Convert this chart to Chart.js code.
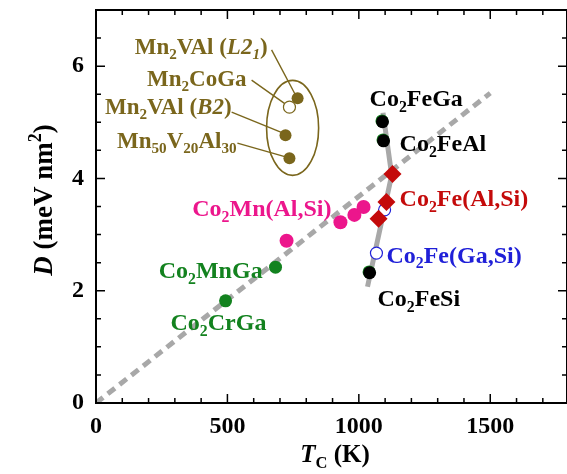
<!DOCTYPE html>
<html><head><meta charset="utf-8">
<script src="https://cdn.jsdelivr.net/npm/chart.js@4"></script>
<style>html,body{margin:0;padding:0;background:#fff;overflow:hidden}canvas{display:block}</style>
</head><body><canvas id="c" width="567" height="474" style="width:567px;height:474px"></canvas>
<script>
// ---------- data (T_C in K, D in meV nm^2) ----------
const mnVAlFilled   = [[767,5.43],[721,4.77],[736,4.36]];   // Mn2VAl(L21), Mn2VAl(B2), Mn50V20Al30
const mn2CoGaOpen   = [[736,5.27]];
const co2FeBlack    = [[1090,5.01],[1094,4.67],[1041,2.32]]; // Co2FeGa, Co2FeAl, Co2FeSi
const co2FeGreen    = [[1088,5.025],[1092,4.685],[1039,2.335]];
const co2FeGaSi     = [[1067,2.67],[1098,3.44]];
const co2FeAlSi     = [[1128,4.08],[1105,3.58],[1075,3.28]];
const co2MnAlSi     = [[725,2.89],[930,3.22],[983,3.35],[1018,3.49]];
const co2MnGa       = [[683,2.42]];
const co2CrGa       = [[493,1.82]];
const fitLine       = [[0,0],[1500,5.52]];
const co2FeGuide    = [[1092,5.17],[1125,4.06],[1033,2.07]];
const xTickLabels   = [0,500,1000,1500];
const xMinorTicks   = [100,200,300,400,600,700,800,900,1100,1200,1300,1400,1600,1700];
const yTickLabels   = [0,2,4,6];
const yMinorTicks   = [0.5,1,1.5,2.5,3,3.5,4.5,5,5.5,6.5];
const labelTexts    = ['Mn_2VAl (*L2_1*)','Mn_2CoGa','Mn_2VAl (*B2*)','Mn_{50}V_{20}Al_{30}',
                       'Co_2FeGa','Co_2FeAl','Co_2Fe(Al,Si)','Co_2Fe(Ga,Si)','Co_2FeSi',
                       'Co_2Mn(Al,Si)','Co_2MnGa','Co_2CrGa'];

// ---------- styles / annotation placement ----------
const FAM = '"Liberation Serif","Times New Roman",serif';
const OLIVE='#7a661c', MAG='#ec168c', GRN='#13821f', RED='#c40a0a', BLU='#2020d8', GRAY='#a8a8a8';
const labelPlace = [ // [x, y(center), align, color, size]
  [653,6.36,'right',OLIVE,23],[573,5.79,'right',OLIVE,23],[516,5.29,'right',OLIVE,23],[535,4.68,'right',OLIVE,23],
  [1041,5.43,'left','#000',24],[1155,4.63,'left','#000',24],[1155,3.65,'left',RED,24],[1105,2.64,'left',BLU,24],
  [1071,1.87,'left','#000',24],[896,3.47,'right',MAG,24],[634,2.37,'right',GRN,24],[466,1.44,'center',GRN,24]
];
const leaders = [[[668,6.29],[763,5.45]],[[592,5.75],[725,5.31]],[[516,5.18],[710,4.81]],[[538,4.63],[725,4.38]]];
const ellipse = {x:748,y:4.90,rx:99,ry:0.846};

function pts(a){return a.map(p=>({x:p[0],y:p[1]}));}

function parseRich(s){
  const out=[]; let i=0, it=false;
  while(i<s.length){
    const c=s[i];
    if(c==='*'){it=!it;i++;continue;}
    if(c==='_'||c==='^'){
      let t;
      if(s[i+1]==='{'){const j=s.indexOf('}',i);t=s.slice(i+2,j);i=j+1;}
      else {t=s[i+1];i+=2;}
      out.push({t,sub:c==='_',sup:c==='^',it});continue;
    }
    let j=i; while(j<s.length && '*_^'.indexOf(s[j])<0) j++;
    out.push({t:s.slice(i,j),it}); i=j;
  }
  return out;
}
function drawRich(ctx,str,x,y,size,color,align){
  const f=(sz,it)=>(it?'italic ':'')+'bold '+sz+'px '+FAM;
  const items=[]; let w=0;
  for(const s of parseRich(str)){
    const sz=(s.sub||s.sup)?size*0.66:size;
    ctx.font=f(sz,s.it); const mw=ctx.measureText(s.t).width;
    items.push(Object.assign({},s,{sz,w:mw})); w+=mw;
  }
  let cx = align==='right'?x-w:align==='center'?x-w/2:x;
  const base=y+size*0.33;
  ctx.fillStyle=color; ctx.textAlign='left'; ctx.textBaseline='alphabetic';
  for(const it of items){
    ctx.font=f(it.sz,it.it);
    const dy=it.sub?size*0.24:it.sup?-size*0.4:0;
    ctx.fillText(it.t,cx,base+dy); cx+=it.w;
  }
}

const decor = {
  id:'decor',
  afterLayout(chart){
    // let the plot frame run to the canvas' right edge, as in the original figure
    const X=chart.scales.x;
    chart.chartArea.right=chart.width;
    chart.chartArea.width=chart.chartArea.right-chart.chartArea.left;
    X.right=chart.width; X.width=X.right-X.left;
    X.configure();
  },
  beforeDatasetsDraw(chart){
    const ctx=chart.ctx, X=chart.scales.x, Y=chart.scales.y;
    ctx.save();
    ctx.strokeStyle=OLIVE; ctx.lineWidth=1.6;
    ctx.beginPath();
    const ex=X.getPixelForValue(ellipse.x), ey=Y.getPixelForValue(ellipse.y);
    const erx=X.getPixelForValue(ellipse.x+ellipse.rx)-ex, ery=ey-Y.getPixelForValue(ellipse.y+ellipse.ry);
    ctx.ellipse(ex,ey,erx,ery,0,0,Math.PI*2); ctx.stroke();
    ctx.lineWidth=1.4;
    for(const l of leaders){
      ctx.beginPath();
      ctx.moveTo(X.getPixelForValue(l[0][0]),Y.getPixelForValue(l[0][1]));
      ctx.lineTo(X.getPixelForValue(l[1][0]),Y.getPixelForValue(l[1][1]));
      ctx.stroke();
    }
    ctx.restore();
  },
  afterDatasetsDraw(chart){
    const ctx=chart.ctx, X=chart.scales.x, Y=chart.scales.y, a=chart.chartArea;
    ctx.save();
    labelTexts.forEach((t,i)=>{
      const p=labelPlace[i];
      drawRich(ctx,t,X.getPixelForValue(p[0]),Y.getPixelForValue(p[1]),p[4],p[3],p[2]);
    });
    // frame
    ctx.strokeStyle='#000'; ctx.lineWidth=2;
    ctx.strokeRect(a.left,a.top,a.right-a.left,a.bottom-a.top);
    ctx.lineWidth=1.5;
    const tick=(vals,len)=>{
      for(const v of vals){
        const xp=X.getPixelForValue(v);
        ctx.beginPath();ctx.moveTo(xp,a.bottom);ctx.lineTo(xp,a.bottom-len);ctx.moveTo(xp,a.top);ctx.lineTo(xp,a.top+len);ctx.stroke();
      }
    };
    const ticky=(vals,len)=>{
      for(const v of vals){
        const yp=Y.getPixelForValue(v);
        ctx.beginPath();ctx.moveTo(a.left,yp);ctx.lineTo(a.left+len,yp);ctx.moveTo(a.right,yp);ctx.lineTo(a.right-len,yp);ctx.stroke();
      }
    };
    tick(xTickLabels,9); tick(xMinorTicks,5);
    ticky(yTickLabels,9); ticky(yMinorTicks,5);
    // axis titles
    drawRich(ctx,'*T*_C (K)',335,454,25,'#000','center');
    ctx.translate(43,200); ctx.rotate(-Math.PI/2);
    drawRich(ctx,'*D* (meV nm^2)',0,0,27,'#000','center');
    ctx.restore();
  }
};

const tickFont={family:FAM,size:24,weight:'bold'};
new Chart(document.getElementById('c'),{
  type:'scatter',
  data:{datasets:[
    {data:pts(co2FeAlSi),pointStyle:'rectRot',pointRadius:9,backgroundColor:RED,borderColor:RED,borderWidth:0,order:0},
    {data:pts(co2FeGaSi),pointStyle:'circle',pointRadius:6,backgroundColor:'#fff',borderColor:BLU,borderWidth:1.2,order:1},
    {data:pts(co2FeBlack),pointRadius:6.5,backgroundColor:'#000',borderColor:'#000',borderWidth:0,order:2},
    {data:pts(co2FeGreen),pointRadius:6.5,backgroundColor:GRN,borderColor:GRN,borderWidth:0,order:3},
    {data:pts(co2MnAlSi),pointRadius:7,backgroundColor:MAG,borderColor:MAG,borderWidth:0,order:2},
    {data:pts(co2MnGa),pointRadius:6.5,backgroundColor:GRN,borderColor:GRN,borderWidth:0,order:2},
    {data:pts(co2CrGa),pointRadius:6.5,backgroundColor:GRN,borderColor:GRN,borderWidth:0,order:2},
    {data:pts(mnVAlFilled),pointRadius:6,backgroundColor:OLIVE,borderColor:OLIVE,borderWidth:0,order:2},
    {data:pts(mn2CoGaOpen),pointRadius:6,backgroundColor:'#fff',borderColor:OLIVE,borderWidth:1.2,order:2},
    {data:pts(co2FeGuide),showLine:true,pointRadius:0,borderColor:GRAY,borderWidth:5,fill:false,order:8},
    {data:pts(fitLine),showLine:true,pointRadius:0,borderColor:GRAY,borderWidth:5,borderDash:[9,6],fill:false,order:9}
  ]},
  options:{
    responsive:false,animation:false,devicePixelRatio:1,
    layout:{padding:{top:10,left:0,right:0,bottom:0}},
    plugins:{legend:{display:false},tooltip:{enabled:false}},
    scales:{
      x:{type:'linear',min:0,max:1792,
        afterBuildTicks:s=>{s.ticks=xTickLabels.map(v=>({value:v}));},
        afterFit:s=>{s.height=71;s.paddingLeft=0;s.paddingRight=0;s.paddingTop=0;s.paddingBottom=0;},
        ticks:{font:tickFont,color:'#000',padding:9,maxRotation:0,autoSkip:false,callback:v=>String(v)},
        grid:{display:false,drawTicks:false},border:{display:false}},
      y:{type:'linear',min:0,max:7,
        afterBuildTicks:s=>{s.ticks=yTickLabels.map(v=>({value:v}));},
        afterFit:s=>{s.width=96;s.paddingLeft=0;s.paddingRight=0;s.paddingTop=0;s.paddingBottom=0;},
        ticks:{font:tickFont,color:'#000',padding:12,autoSkip:false,callback:v=>String(v)},
        grid:{display:false,drawTicks:false},border:{display:false}}
    }
  },
  plugins:[decor]
});
</script></body></html>
